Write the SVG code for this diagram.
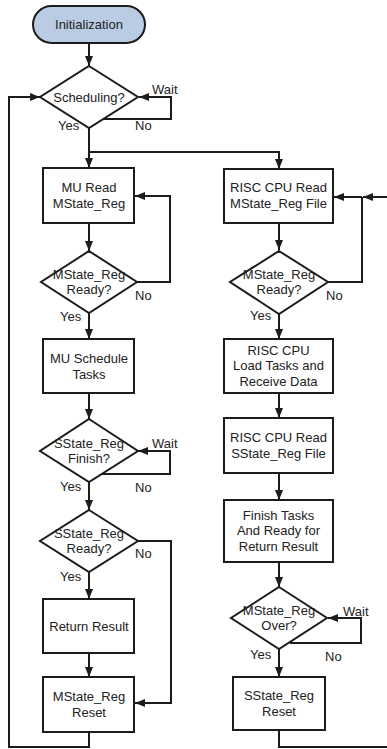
<svg xmlns="http://www.w3.org/2000/svg" width="387" height="749" viewBox="0 0 387 749">
<style>
.box{fill:#fff;stroke:#1c1c1c;stroke-width:2}
.start{fill:#b9cce4;stroke:#1c1c1c;stroke-width:2}
.t{font-family:"Liberation Sans",Arial,sans-serif;font-size:13px;fill:#222;text-anchor:middle}
.l{font-family:"Liberation Sans",Arial,sans-serif;font-size:13px;fill:#222}
.c{fill:none;stroke:#1c1c1c;stroke-width:2}
.a{marker-end:url(#ah)}
</style>
<defs>
<marker id="ah" viewBox="0 0 10 8" refX="10" refY="4" markerWidth="10" markerHeight="8" markerUnits="userSpaceOnUse" orient="auto">
<path d="M0,0 L10,4 L0,8 Z" fill="#1c1c1c"/>
</marker>
</defs>
<g id="connectors">
<path class="c a" d="M89,43 V66"/>
<path class="c a" d="M103,119 H171 V97 H139"/>
<path class="c a" d="M89,128 V168"/>
<path class="c a" d="M89,152 H279 V169"/>
<path class="c a" d="M89,223 V251"/>
<path class="c a" d="M137,282 H170 V196 H135"/>
<path class="c a" d="M89,313 V339"/>
<path class="c a" d="M89,393 V419"/>
<path class="c a" d="M101,474 H170 V451 H138"/>
<path class="c a" d="M89,482 V510"/>
<path class="c a" d="M137,541 H171 V703 H135"/>
<path class="c a" d="M89,572 V599"/>
<path class="c a" d="M89,653 V677"/>
<path class="c a" d="M89,732 V747 H9 V97 H40"/>
<path class="c a" d="M279,223 V250"/>
<path class="c" d="M328,282 H362 V197"/>
<path class="c a" d="M388,197 H363"/>
<path class="c a" d="M362,197 H334"/>
<path class="c a" d="M279,314 V339"/>
<path class="c a" d="M279,393 V418"/>
<path class="c a" d="M279,473 V500"/>
<path class="c a" d="M279,562 V587"/>
<path class="c a" d="M290,643 H361 V618 H328"/>
<path class="c a" d="M279,649 V677"/>
<path class="c" d="M279,730 V747 H388"/>
</g>
<g id="labels">
<text class="l" x="152" y="94">Wait</text>
<text class="l" x="58" y="130">Yes</text>
<text class="l" x="135" y="130">No</text>
<text class="l" x="135" y="300">No</text>
<text class="l" x="60" y="321">Yes</text>
<text class="l" x="152" y="448">Wait</text>
<text class="l" x="60" y="491">Yes</text>
<text class="l" x="135" y="492">No</text>
<text class="l" x="135" y="558">No</text>
<text class="l" x="60" y="581">Yes</text>
<text class="l" x="326" y="300">No</text>
<text class="l" x="250" y="320">Yes</text>
<text class="l" x="343" y="616">Wait</text>
<text class="l" x="250" y="659">Yes</text>
<text class="l" x="325" y="661">No</text>
</g>
<g id="init">
<rect class="start" x="33" y="6" width="112" height="37" rx="18.5"/>
<text class="t" x="89" y="29">Initialization</text>
</g>
<g id="scheduling">
<path class="box" d="M89,66 L138,97 L89,128 L40,97 Z"/>
<text class="t" x="89" y="101.5">Scheduling?</text>
</g>
<g id="mu-read">
<rect class="box" x="43" y="168" width="91" height="55"/>
<text class="t" x="89" y="192">MU Read</text>
<text class="t" x="89" y="208">MState_Reg</text>
</g>
<g id="mstate-ready-left">
<path class="box" d="M89,251 L137,282 L89,313 L41,282 Z"/>
<text class="t" x="89" y="278.5">MState_Reg</text>
<text class="t" x="89" y="294">Ready?</text>
</g>
<g id="mu-schedule">
<rect class="box" x="43" y="339" width="91" height="54"/>
<text class="t" x="89" y="363">MU Schedule</text>
<text class="t" x="89" y="379">Tasks</text>
</g>
<g id="sstate-finish">
<path class="box" d="M89,419 L138,451 L89,482 L40,451 Z"/>
<text class="t" x="89" y="447.5">SState_Reg</text>
<text class="t" x="89" y="463">Finish?</text>
</g>
<g id="sstate-ready">
<path class="box" d="M89,510 L138,541 L89,572 L40,541 Z"/>
<text class="t" x="89" y="537.5">SState_Reg</text>
<text class="t" x="89" y="553">Ready?</text>
</g>
<g id="return-result">
<rect class="box" x="43" y="599" width="91" height="54"/>
<text class="t" x="89" y="631">Return Result</text>
</g>
<g id="mstate-reset">
<rect class="box" x="43" y="677" width="91" height="55"/>
<text class="t" x="89" y="701">MState_Reg</text>
<text class="t" x="89" y="717">Reset</text>
</g>
<g id="risc-read-mstate">
<rect class="box" x="224" y="169" width="109" height="54"/>
<text class="t" x="278.5" y="192">RISC CPU Read</text>
<text class="t" x="278.5" y="208">MState_Reg File</text>
</g>
<g id="mstate-ready-right">
<path class="box" d="M279,251 L328,282 L279,314 L230,282 Z"/>
<text class="t" x="279" y="278.5">MState_Reg</text>
<text class="t" x="279" y="294">Ready?</text>
</g>
<g id="risc-load">
<rect class="box" x="224" y="339" width="109" height="54"/>
<text class="t" x="278.5" y="354.5">RISC CPU</text>
<text class="t" x="278.5" y="370">Load Tasks and</text>
<text class="t" x="278.5" y="385.5">Receive Data</text>
</g>
<g id="risc-read-sstate">
<rect class="box" x="224" y="418" width="109" height="55"/>
<text class="t" x="278.5" y="442">RISC CPU Read</text>
<text class="t" x="278.5" y="458">SState_Reg File</text>
</g>
<g id="finish-tasks">
<rect class="box" x="224" y="500" width="109" height="62"/>
<text class="t" x="278.5" y="519.5">Finish Tasks</text>
<text class="t" x="278.5" y="535">And Ready for</text>
<text class="t" x="278.5" y="550.5">Return Result</text>
</g>
<g id="mstate-over">
<path class="box" d="M279,587 L327,618 L279,649 L231,618 Z"/>
<text class="t" x="279" y="614.5">MState_Reg</text>
<text class="t" x="279" y="630">Over?</text>
</g>
<g id="sstate-reset">
<rect class="box" x="233" y="677" width="92" height="53"/>
<text class="t" x="279" y="700">SState_Reg</text>
<text class="t" x="279" y="716">Reset</text>
</g>
</svg>
